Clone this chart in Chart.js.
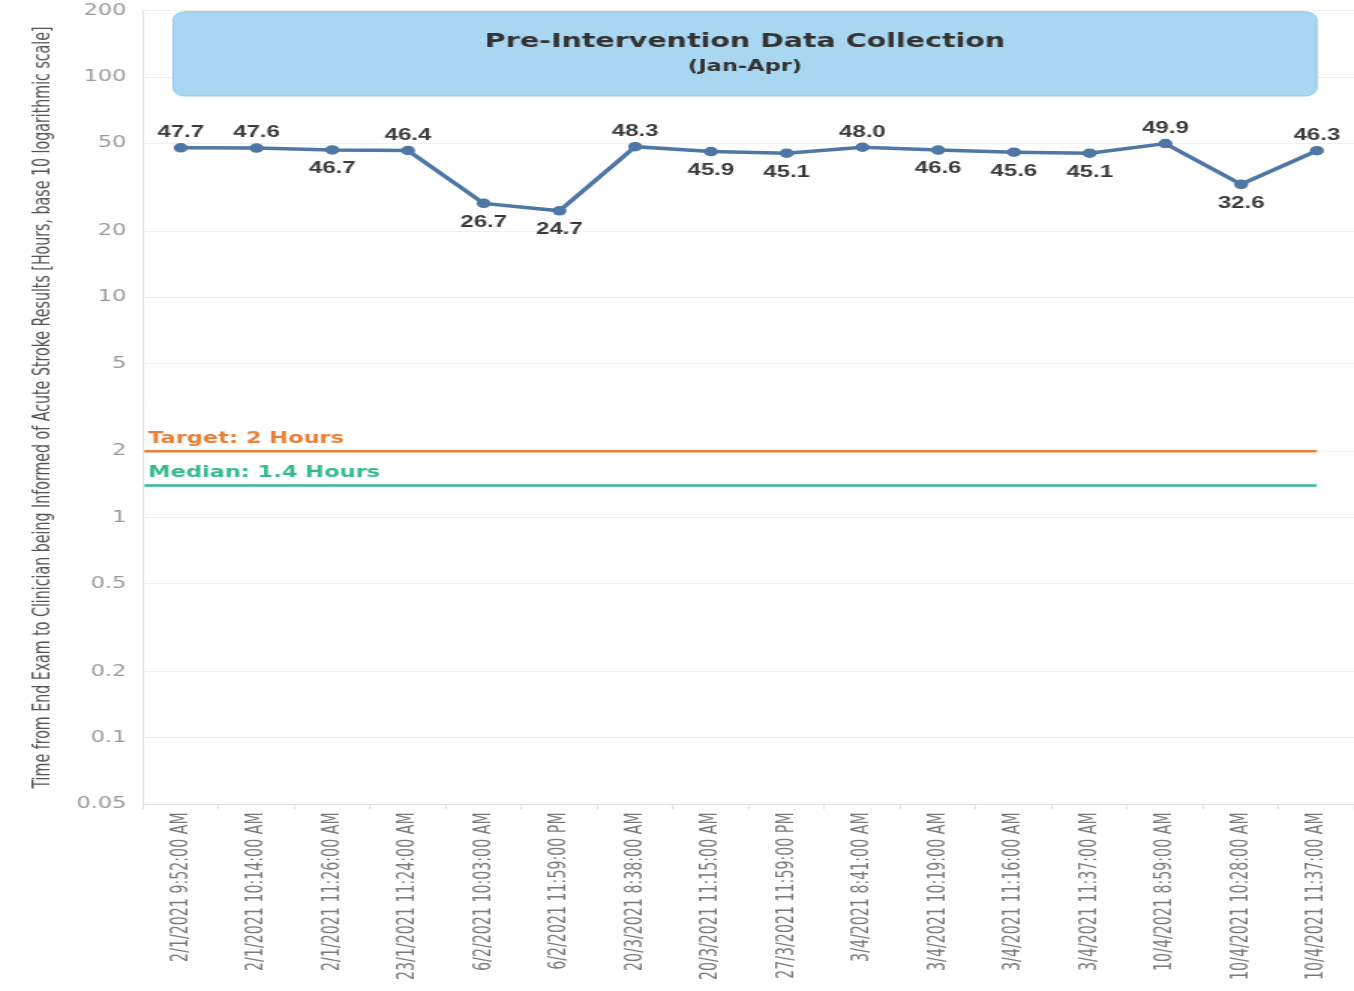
<!DOCTYPE html>
<html>
<head>
<meta charset="utf-8">
<script src="https://cdn.jsdelivr.net/npm/chart.js@4/dist/chart.umd.min.js"></script>
<style>
  html, body { margin: 0; padding: 0; background: #fff; overflow: hidden; }
  #wrap { width: 910px; height: 991px; transform: scaleX(1.4994); transform-origin: 0 0; }
</style>
</head>
<body>
<div id="wrap"><canvas id="chart"></canvas></div>
<script>
const timestamps = [
    "2/1/2021 9:52:00 AM", "2/1/2021 10:14:00 AM", "2/1/2021 11:26:00 AM", "23/1/2021 11:24:00 AM",
    "6/2/2021 10:03:00 AM", "6/2/2021 11:59:00 PM", "20/3/2021 8:38:00 AM", "20/3/2021 11:15:00 AM",
    "27/3/2021 11:59:00 PM", "3/4/2021 8:41:00 AM", "3/4/2021 10:19:00 AM", "3/4/2021 11:16:00 AM",
    "3/4/2021 11:37:00 AM", "10/4/2021 8:59:00 AM", "10/4/2021 10:28:00 AM", "10/4/2021 11:37:00 AM"
];
const hours = [47.7, 47.6, 46.7, 46.4, 26.7, 24.7, 48.3, 45.9, 45.1, 48.0, 46.6, 45.6, 45.1, 49.9, 32.6, 46.3];
// where the value label sits for each point
const labelSide = ["up", "up", "down", "up", "down", "down", "up", "down", "down", "up", "down", "down", "down", "up", "down", "up"];
const yTicks = [0.05, 0.1, 0.2, 0.5, 1, 2, 5, 10, 20, 50, 100, 200];
const targetHours = 2;
const medianHours = 1.4;

const narrow = '"Liberation Sans Narrow", "DejaVu Sans Condensed", sans-serif';

const extras = {
    id: "extras",
    beforeDatasetsDraw(chart) {
        const { ctx, chartArea, scales: { x, y } } = chart;
        // banner
        const left = x.getPixelForValue(-0.1);
        const right = x.getPixelForValue(hours.length - 1);
        const top = y.getPixelForValue(200) + 1;
        const bottom = y.getPixelForValue(82);
        ctx.save();
        ctx.beginPath();
        ctx.roundRect(left, top, right - left, bottom - top, 8);
        ctx.fillStyle = "#a9d6f1";
        ctx.fill();
        ctx.strokeStyle = "#93c8ea";
        ctx.lineWidth = 1;
        ctx.stroke();
        const cx = (left + right) / 2;
        ctx.fillStyle = "#333";
        ctx.textAlign = "center";
        ctx.textBaseline = "middle";
        ctx.font = "bold 19px 'DejaVu Sans'";
        ctx.fillText("Pre-Intervention Data Collection", cx, top + 30);
        ctx.font = "bold 15px 'DejaVu Sans'";
        ctx.fillText("(Jan-Apr)", cx, top + 55);

        // reference lines
        const refs = [
            { v: targetHours, color: "#e97f34", text: "Target: 2 Hours" },
            { v: medianHours, color: "#35b98e", text: "Median: 1.4 Hours" }
        ];
        for (const r of refs) {
            const py = y.getPixelForValue(r.v);
            ctx.beginPath();
            ctx.moveTo(chartArea.left + 1, py);
            ctx.lineTo(right, py);
            ctx.strokeStyle = r.color;
            ctx.lineWidth = 2.5;
            ctx.stroke();
            ctx.fillStyle = r.color;
            ctx.textAlign = "left";
            ctx.font = "bold 15px 'DejaVu Sans'";
            ctx.fillText(r.text, chartArea.left + 3.5, py - 12);
        }
        ctx.restore();
    },
    afterDatasetsDraw(chart) {
        const { ctx } = chart;
        const meta = chart.getDatasetMeta(0);
        ctx.save();
        ctx.font = "bold 16px 'Liberation Sans'";
        ctx.fillStyle = "#3a3a3a";
        ctx.textAlign = "center";
        ctx.textBaseline = "middle";
        meta.data.forEach((pt, i) => {
            const dy = labelSide[i] === "up" ? -15 : 19;
            ctx.fillText(hours[i].toFixed(1), pt.x, pt.y + dy);
        });
        ctx.restore();
    }
};

new Chart(document.getElementById("chart"), {
    type: "line",
    data: {
        labels: timestamps,
        datasets: [{
            data: hours,
            borderColor: "#4e77a5",
            backgroundColor: "#4e77a5",
            borderWidth: 3.5,
            pointRadius: 3,
            pointHoverRadius: 3,
            tension: 0,
            fill: false
        }]
    },
    options: {
        responsive: true,
        maintainAspectRatio: false,
        animation: false,
        layout: { padding: { left: 19, top: 10.7, right: 0, bottom: 0 } },
        plugins: { legend: { display: false }, tooltip: { enabled: false } },
        scales: {
            x: {
                offset: true,
                grid: { display: true, drawOnChartArea: false, drawTicks: true, tickLength: 5, color: "#e2e2e2", offset: true },
                border: { display: true, color: "#e2e2e2" },
                ticks: {
                    autoSkip: false, minRotation: 90, maxRotation: 90, padding: 3,
                    color: "#7a7a7a", font: { family: narrow, size: 15.8 }
                },
                afterFit: s => {
                    s.height = 186.7;
                    s.paddingLeft = 0;
                    s.paddingRight = 0;
                }
            },
            y: {
                type: "logarithmic",
                min: 0.05,
                max: 200,
                afterBuildTicks: s => { s.ticks = yTicks.map(v => ({ value: v })); },
                grid: { color: "#f0f0f0", drawTicks: false },
                border: { display: true, color: "#e2e2e2" },
                ticks: {
                    padding: 11, color: "#9a9a9a", autoSkip: false,
                    font: { family: "DejaVu Sans", size: 15 },
                    callback: v => String(v)
                },
                title: {
                    display: true,
                    text: "Time from End Exam to Clinician being Informed of Acute Stroke Results [Hours, base 10 logarithmic scale]",
                    color: "#555", padding: 0,
                    font: { family: narrow, size: 15.8 }
                },
                afterFit: s => {
                    s.width = 76.3;
                    s.paddingTop = 0;
                    s.paddingBottom = 0;
                }
            }
        }
    },
    plugins: [extras]
});
</script>
</body>
</html>
